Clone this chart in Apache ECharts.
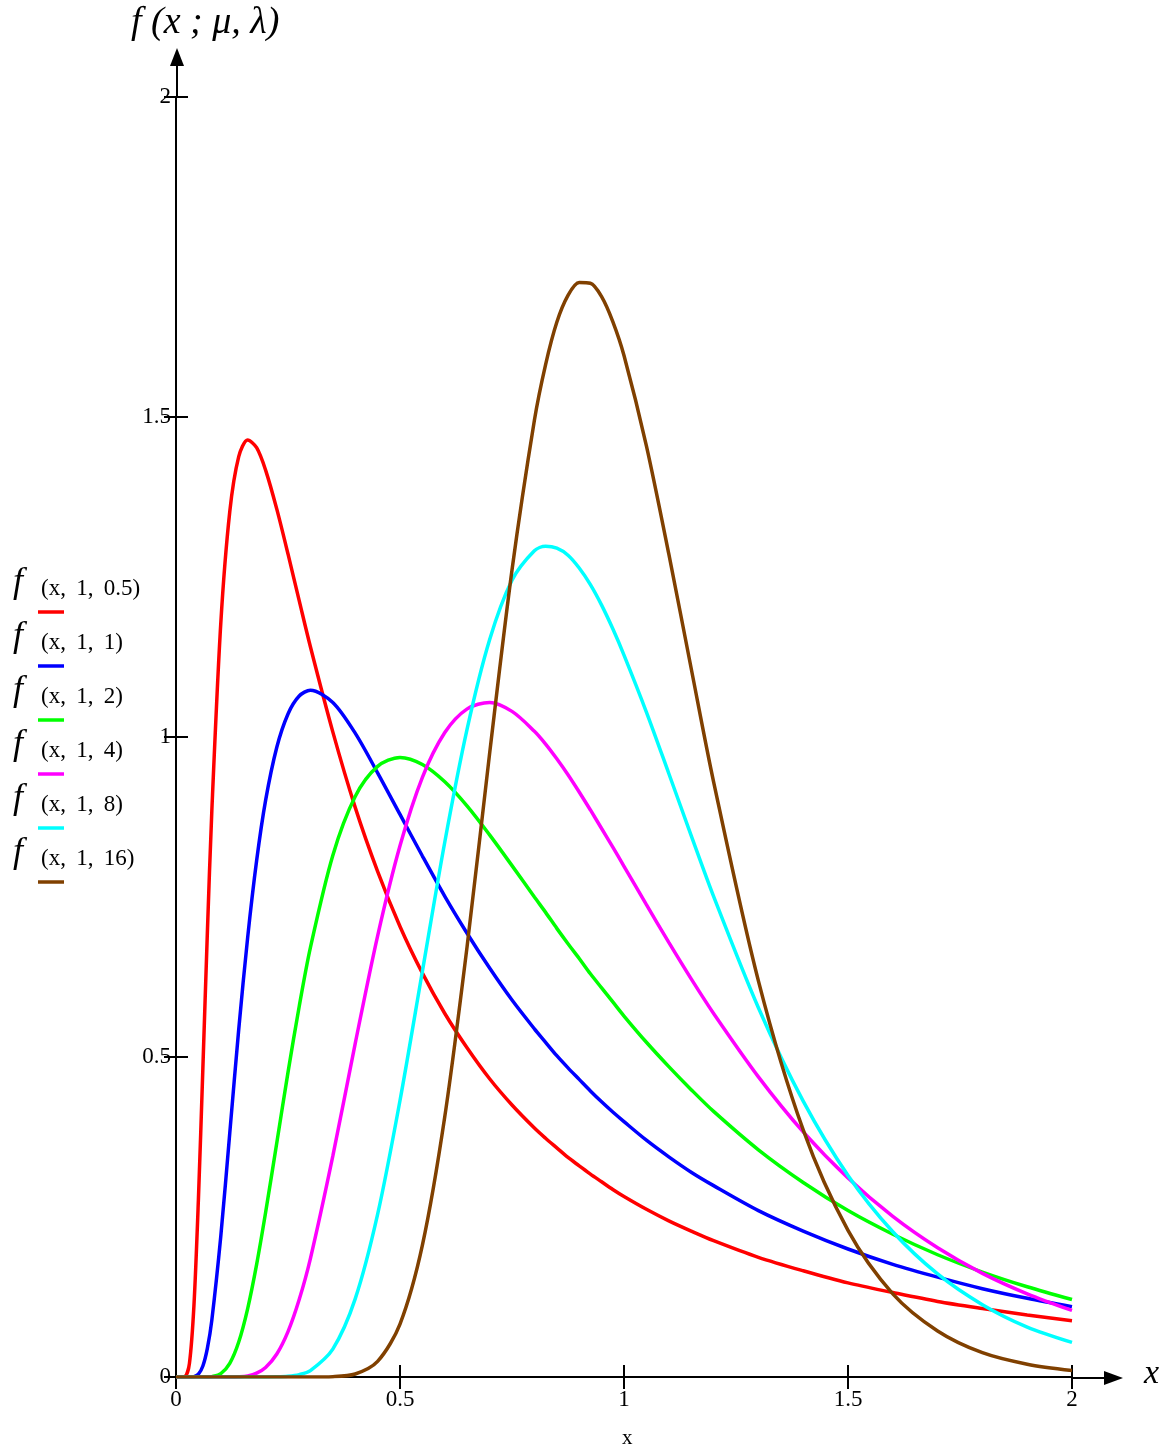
<!DOCTYPE html>
<html>
<head>
<meta charset="utf-8">
<style>
  html, body { margin: 0; padding: 0; background: #fff; }
  #chart { width: 1172px; height: 1454px; }
</style>
<script src="https://cdn.jsdelivr.net/npm/echarts@6/dist/echarts.min.js"></script>
</head>
<body>
<div id="chart"></div>
<script>
// x samples
const xs = [0, 0.01, 0.02, 0.03, 0.04, 0.05, 0.06, 0.07, 0.08, 0.1, 0.12, 0.14, 0.16, 0.18, 0.2, 0.225, 0.25, 0.275, 0.3, 0.35, 0.4, 0.45, 0.5, 0.55, 0.6, 0.65, 0.7, 0.75, 0.8, 0.825, 0.85, 0.875, 0.9, 0.925, 0.95, 0.975, 1.0, 1.05, 1.1, 1.15, 1.2, 1.3, 1.4, 1.5, 1.6, 1.7, 1.8, 1.9, 2.0]

// f(x, 1, lambda)
const lam05 = [0, 0, 0.0006, 0.0213, 0.111, 0.277, 0.483, 0.694, 0.885, 1.178, 1.352, 1.438, 1.464, 1.452, 1.417, 1.356, 1.286, 1.213, 1.141, 1.008, 0.890, 0.790, 0.704, 0.631, 0.568, 0.514, 0.466, 0.425, 0.389, 0.373, 0.358, 0.343, 0.330, 0.317, 0.305, 0.293, 0.282, 0.262, 0.244, 0.228, 0.213, 0.187, 0.166, 0.147, 0.132, 0.118, 0.107, 0.097, 0.088]
const lam1 = [0, 0, 0, 0, 0.0005, 0.0043, 0.0172, 0.0447, 0.0889, 0.220, 0.381, 0.543, 0.687, 0.807, 0.901, 0.984, 1.036, 1.064, 1.073, 1.054, 1.006, 0.944, 0.879, 0.814, 0.751, 0.693, 0.639, 0.589, 0.544, 0.523, 0.502, 0.483, 0.465, 0.447, 0.430, 0.414, 0.399, 0.370, 0.344, 0.320, 0.299, 0.260, 0.228, 0.200, 0.176, 0.156, 0.138, 0.123, 0.110]
const lam2 = [0, 0, 0, 0, 0, 0, 0, 0, 0.0006, 0.0054, 0.0214, 0.0547, 0.107, 0.176, 0.257, 0.366, 0.476, 0.579, 0.671, 0.815, 0.907, 0.954, 0.968, 0.957, 0.930, 0.892, 0.847, 0.799, 0.750, 0.726, 0.701, 0.677, 0.654, 0.630, 0.608, 0.586, 0.564, 0.523, 0.485, 0.449, 0.415, 0.355, 0.304, 0.260, 0.223, 0.191, 0.164, 0.141, 0.121]
const lam4 = [0, 0, 0, 0, 0, 0, 0, 0, 0, 0, 0, 0.0004, 0.0018, 0.0060, 0.0148, 0.0359, 0.0709, 0.121, 0.185, 0.345, 0.521, 0.689, 0.830, 0.937, 1.007, 1.044, 1.054, 1.040, 1.009, 0.989, 0.966, 0.941, 0.914, 0.886, 0.857, 0.828, 0.798, 0.738, 0.679, 0.622, 0.568, 0.469, 0.383, 0.311, 0.251, 0.202, 0.162, 0.130, 0.104]
const lam8 = [0, 0, 0, 0, 0, 0, 0, 0, 0, 0, 0, 0, 0, 0, 0, 0.0002, 0.0011, 0.0037, 0.0100, 0.0436, 0.122, 0.254, 0.432, 0.634, 0.836, 1.013, 1.152, 1.245, 1.291, 1.298, 1.295, 1.284, 1.264, 1.238, 1.206, 1.169, 1.128, 1.039, 0.943, 0.846, 0.751, 0.577, 0.431, 0.315, 0.227, 0.161, 0.113, 0.078, 0.054]
const lam16 = [0, 0, 0, 0, 0, 0, 0, 0, 0, 0, 0, 0, 0, 0, 0, 0, 0, 0, 0, 0.0005, 0.0047, 0.0244, 0.0827, 0.206, 0.407, 0.674, 0.974, 1.261, 1.495, 1.582, 1.648, 1.690, 1.710, 1.709, 1.688, 1.649, 1.596, 1.455, 1.286, 1.107, 0.930, 0.619, 0.386, 0.229, 0.130, 0.072, 0.038, 0.020, 0.010]

const legendLabels = ['(x,\u2009 1,\u2009 0.5)', '(x,\u2009 1,\u2009 1)', '(x,\u2009 1,\u2009 2)', '(x,\u2009 1,\u2009 4)', '(x,\u2009 1,\u2009 8)', '(x,\u2009 1,\u2009 16)']
const colors = ['#ff0000', '#0000ff', '#00ff00', '#ff00ff', '#00ffff', '#804000']
const yTicks = [0, 0.5, 1, 1.5, 2]

const allY = [lam05, lam1, lam2, lam4, lam8, lam16]
const serif = 'Liberation Serif'

const chart = echarts.init(document.getElementById('chart'))

const series = allY.map((ys, i) => ({
  name: legendLabels[i],
  type: 'line',
  data: xs.map((x, k) => [x, ys[k]]),
  showSymbol: false,
  smooth: 0.3,
  lineStyle: { color: colors[i], width: 3.5 },
  itemStyle: { color: colors[i] },
  z: 3 + i
}))

// legend on the left, drawn as text + short colored dash
const legendGraphics = []
legendLabels.forEach((lab, i) => {
  const y0 = 583 + i * 54
  legendGraphics.push({
    type: 'text', left: 13, top: y0 - 18,
    style: { text: 'f', fontFamily: serif, fontStyle: 'italic', fontSize: 36, fill: '#000' }
  })
  legendGraphics.push({
    type: 'text', left: 41, top: y0 - 6,
    style: { text: lab, fontFamily: serif, fontSize: 23, fill: '#000' }
  })
  legendGraphics.push({
    type: 'line', shape: { x1: 38, y1: y0 + 29, x2: 64, y2: y0 + 29 },
    style: { stroke: colors[i], lineWidth: 3.5 }
  })
})

const tickStyle = { show: true, inside: true, length: 12, lineStyle: { color: '#000', width: 2 } }
const lineStyleAx = { color: '#000', width: 2 }

const option = {
  animation: false,
  backgroundColor: '#fff',
  textStyle: { fontFamily: serif },
  grid: { left: 176, top: 97, width: 896, height: 1280, show: false },
  xAxis: [
    {
      type: 'value', min: 0, max: 2, interval: 0.5, position: 'bottom',
      axisLine: { show: true, onZero: false, lineStyle: lineStyleAx },
      axisTick: tickStyle,
      axisLabel: { color: '#000', fontFamily: serif, fontSize: 23, margin: 11,
        formatter: v => String(v) },
      splitLine: { show: false }
    },
    {
      type: 'value', min: 0, max: 2, interval: 0.5, position: 'top',
      axisLine: { show: true, lineStyle: lineStyleAx },
      axisTick: tickStyle,
      axisLabel: { show: false },
      splitLine: { show: false }
    }
  ],
  yAxis: [
    {
      type: 'value', min: yTicks[0], max: yTicks[yTicks.length - 1], interval: 0.5, position: 'left',
      axisLine: { show: true, onZero: false, lineStyle: lineStyleAx },
      axisTick: tickStyle,
      axisLabel: { color: '#000', fontFamily: serif, fontSize: 23, margin: 5, padding: [8, 0, 0, 0],
        formatter: v => String(v) },
      splitLine: { show: false }
    },
    {
      type: 'value', min: 0, max: 2, interval: 0.5, position: 'right',
      axisLine: { show: true, lineStyle: lineStyleAx },
      axisTick: tickStyle,
      axisLabel: { show: false },
      splitLine: { show: false }
    }
  ],
  series: series,
  graphic: [
    // y-axis extension with arrow
    { type: 'line', shape: { x1: 177, y1: 97, x2: 177, y2: 60 }, style: { stroke: '#000', lineWidth: 2 } },
    { type: 'polygon', shape: { points: [[170, 66], [184, 66], [177, 48]] }, style: { fill: '#000' } },
    // x-axis extension with arrow
    { type: 'line', shape: { x1: 1072, y1: 1378, x2: 1110, y2: 1378 }, style: { stroke: '#000', lineWidth: 2 } },
    { type: 'polygon', shape: { points: [[1104, 1371], [1104, 1385], [1123, 1378]] }, style: { fill: '#000' } },
    { type: 'text', left: 1144, top: 1357, style: { text: 'x', fontFamily: serif, fontStyle: 'italic', fontSize: 34, fill: '#000' } },
    { type: 'text', left: 131, top: 4, style: { text: 'f (x ; μ, λ)', fontFamily: serif, fontStyle: 'italic', fontSize: 38, fill: '#000' } },
    { type: 'text', left: 622, top: 1428, style: { text: 'x', fontFamily: serif, fontSize: 21, fill: '#000' } }
  ].concat(legendGraphics)
}

chart.setOption(option)
</script>
</body>
</html>
